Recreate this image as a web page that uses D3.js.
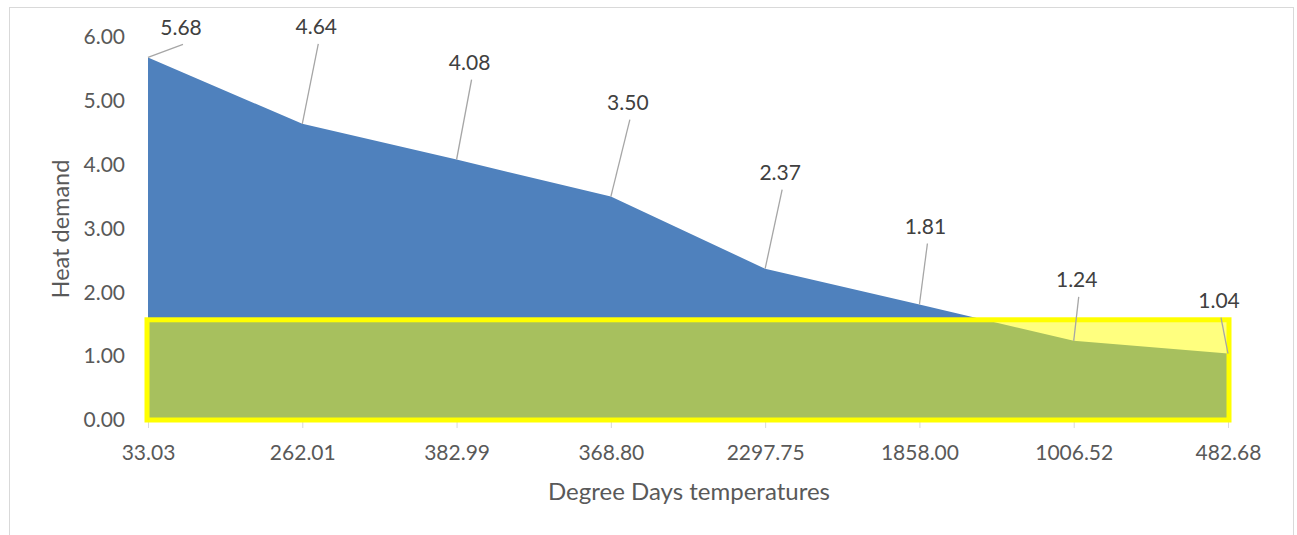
<!DOCTYPE html>
<html>
<head>
<meta charset="utf-8">
<script src="https://cdn.jsdelivr.net/npm/d3@7"></script>
<style>
  html, body { margin: 0; padding: 0; background: #fff; }
  svg { display: block; font-family: Lato, "Open Sans", sans-serif; }
</style>
</head>
<body>
<svg id="chart" width="1297" height="535"></svg>
<script>
// Degree-day categories along the x axis
const categories = ["33.03", "262.01", "382.99", "368.80", "2297.75", "1858.00", "1006.52", "482.68"];
// Heat demand for each category
const heatDemand = [5.68, 4.64, 4.08, 3.50, 2.37, 1.81, 1.24, 1.04];
// Y axis ticks
const yTicks = [0, 1, 2, 3, 4, 5, 6];
// Upper edge of the highlighted band
const bandTop = 1.57;
// Label placement relative to each point (pixels)
const labelOffsets = [[33, -30], [14, -97], [13, -97], [17, -94], [15, -96], [6, -78], [3, -61], [-9, -53]];

const svg = d3.select("#chart");

// Outer chart frame
svg.append("rect")
  .attr("x", 9.5).attr("y", 7.5)
  .attr("width", 1284).attr("height", 560)
  .attr("fill", "#fff").attr("stroke", "#d9d9d9").attr("stroke-width", 1);

const x = d3.scalePoint().domain(categories).range([148, 1228]);
const y = d3.scaleLinear().domain([0, 6]).range([420, 37]);

// Blue area
const area = d3.area()
  .x((d, i) => x(categories[i]))
  .y0(y(0))
  .y1(d => y(d));
svg.append("path")
  .datum(heatDemand)
  .attr("d", area)
  .attr("fill", "#4F81BD");

// X axis baseline and ticks
const xAxis = d3.axisBottom(x).tickSize(8).tickPadding(17);
const gx = svg.append("g").attr("transform", `translate(0,${y(0)})`).call(xAxis);
gx.select(".domain").attr("stroke", "#d9d9d9");
gx.selectAll(".tick line").attr("stroke", "#d9d9d9");
gx.selectAll(".tick text")
  .attr("fill", "#595959").attr("font-size", 21).attr("font-family", "Lato, sans-serif")
  .attr("dy", "0.71em");

// Y axis labels
const yAxis = d3.axisLeft(y).tickValues(yTicks).tickFormat(d3.format(".2f")).tickSize(0).tickPadding(23);
const gy = svg.append("g").attr("transform", `translate(148,0)`).call(yAxis);
gy.select(".domain").remove();
gy.selectAll(".tick text")
  .attr("fill", "#595959").attr("font-size", 21).attr("font-family", "Lato, sans-serif");

// Highlighted band
svg.append("rect")
  .attr("x", x(categories[0]) - 1)
  .attr("y", y(bandTop))
  .attr("width", x(categories[categories.length - 1]) - x(categories[0]) + 2)
  .attr("height", y(0) - y(bandTop))
  .attr("fill", "rgba(255,255,0,0.5)")
  .attr("stroke", "#FFFF00")
  .attr("stroke-width", 5);

// Data labels with leader lines
const labels = svg.append("g");
heatDemand.forEach((v, i) => {
  const px = x(categories[i]), py = y(v);
  const lx = px + labelOffsets[i][0], ly = py + labelOffsets[i][1];
  labels.append("line")
    .attr("x1", px).attr("y1", py)
    .attr("x2", lx + 2).attr("y2", ly + 17)
    .attr("stroke", "#a6a6a6").attr("stroke-width", 1.3);
  labels.append("text")
    .attr("x", lx).attr("y", ly)
    .attr("text-anchor", "middle").attr("dy", "0.35em")
    .attr("fill", "#404040").attr("font-size", 21)
    .text(d3.format(".2f")(v));
});

// Axis titles
svg.append("text")
  .attr("transform", `translate(61,229) rotate(-90)`)
  .attr("text-anchor", "middle").attr("dy", "0.35em")
  .attr("fill", "#595959").attr("font-size", 23.5)
  .text("Heat demand");
svg.append("text")
  .attr("x", 689).attr("y", 492)
  .attr("text-anchor", "middle").attr("dy", "0.35em")
  .attr("fill", "#595959").attr("font-size", 24)
  .text("Degree Days temperatures");
</script>
</body>
</html>
